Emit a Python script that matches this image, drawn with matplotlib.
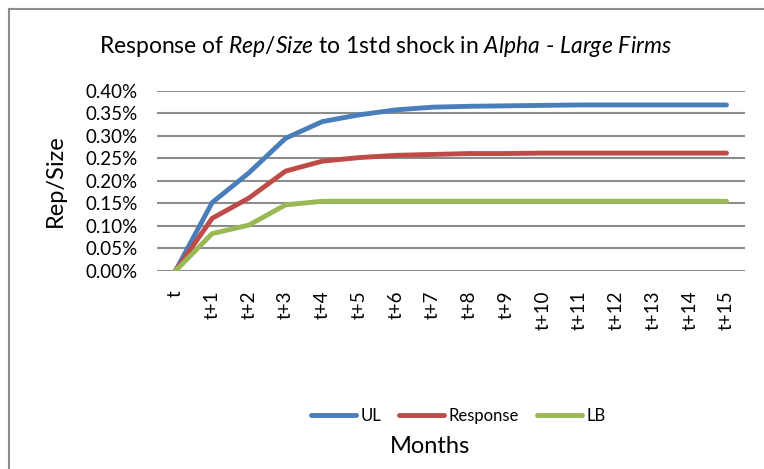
import matplotlib
matplotlib.use('Agg')
from matplotlib import pyplot as plt
from matplotlib.ticker import FuncFormatter
from matplotlib.lines import Line2D

plt.rcParams['font.family'] = ['Lato', 'DejaVu Sans']
plt.rcParams['mathtext.fontset'] = 'custom'
plt.rcParams['mathtext.rm'] = 'Lato'
plt.rcParams['mathtext.it'] = 'Lato:italic'

# data (values in percent)
months = ['t'] + ['t+%d' % i for i in range(1, 16)]
ul = [0.0, 0.152, 0.218, 0.295, 0.332, 0.347, 0.358, 0.364, 0.366, 0.367,
      0.368, 0.369, 0.369, 0.369, 0.369, 0.369]
response = [0.0, 0.117, 0.162, 0.222, 0.244, 0.252, 0.257, 0.259, 0.261, 0.261,
            0.262, 0.262, 0.262, 0.262, 0.262, 0.262]
lb = [0.0, 0.083, 0.102, 0.147, 0.155, 0.155, 0.155, 0.155, 0.155, 0.155,
      0.155, 0.155, 0.155, 0.155, 0.155, 0.155]

fig = plt.figure(figsize=(7.64, 4.69), dpi=100)
ax = fig.add_axes([0.2055, 0.4222, 0.7695, 0.3838])

x = range(len(months))
ax.plot(x, ul, color='#4a7ebb', lw=3.5, solid_capstyle='round', label='UL')
ax.plot(x, response, color='#be4b48', lw=3.5, solid_capstyle='round', label='Response')
ax.plot(x, lb, color='#98b954', lw=3.5, solid_capstyle='round', label='LB')

ax.set_xlim(-0.5, 15.5)
ax.set_ylim(0, 0.40)
ax.set_yticks([i * 0.05 for i in range(9)])
ax.yaxis.set_major_formatter(FuncFormatter(lambda v, p: '%.2f%%' % v))
ax.set_xticks(list(x))
ax.set_xticklabels(months, rotation=90)
ax.grid(axis='y', color='#8c8c8c', lw=1.5)
ax.set_axisbelow(True)
for s in ['top', 'right', 'left', 'bottom']:
    ax.spines[s].set_visible(False)
ax.tick_params(axis='both', length=0, labelsize=13.5)
ax.tick_params(axis='x', pad=14)
ax.tick_params(axis='y', pad=14)

fig.text(0.504, 0.9, 'Response of $Rep/Size$ to 1std shock in $Alpha$ - $Large\\ Firms$',
         ha='center', va='center', fontsize=16.5)
fig.text(0.072, 0.614, 'Rep/Size', rotation=90, ha='center', va='center', fontsize=17)
fig.text(0.563, 0.047, 'Months', ha='center', va='center', fontsize=17)

handles = [Line2D([], [], color='#4a7ebb', lw=3.5, solid_capstyle='round'),
           Line2D([], [], color='#be4b48', lw=3.5, solid_capstyle='round'),
           Line2D([], [], color='#98b954', lw=3.5, solid_capstyle='round')]
fig.legend(handles, ['UL', 'Response', 'LB'], loc='center', bbox_to_anchor=(0.6, 0.113),
           ncol=3, frameon=False, fontsize=12, handlelength=2.7, handletextpad=0.25,
           columnspacing=1.1)

# chart frame (left and top edges visible)
fig.add_artist(Line2D([0.0118, 0.0118], [0, 0.981], color='#8c8c8c', lw=1.5))
fig.add_artist(Line2D([0.0118, 1.0], [0.981, 0.981], color='#8c8c8c', lw=1.5))

plt.savefig('out.png', dpi=100)
